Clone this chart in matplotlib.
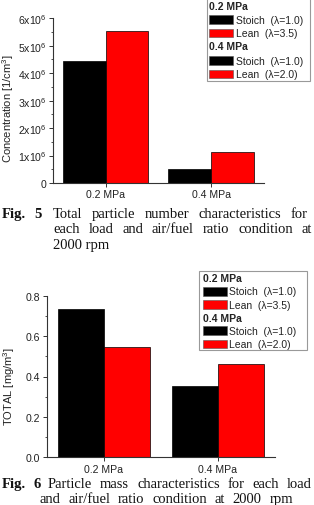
import matplotlib
matplotlib.use('Agg')
from matplotlib import pyplot as plt
from matplotlib.patches import Rectangle
from matplotlib.transforms import Affine2D
from matplotlib.ticker import MultipleLocator, FuncFormatter

plt.rcParams['font.family'] = ['Liberation Sans', 'DejaVu Sans']

# data
loads = ['0.2 MPa', '0.4 MPa']
conditions = ['Stoich', 'Lean']
bar_colors = ['#000000', '#ff0000']
lambdas = [['λ=1.0', 'λ=3.5'], ['λ=1.0', 'λ=2.0']]
number_stoich = [4.44e6, 0.50e6]
number_lean = [5.53e6, 1.13e6]
mass_stoich = [0.735, 0.354]
mass_lean = [0.547, 0.46]

W, H = 314, 506
fig = plt.figure(figsize=(W / 100, H / 100), dpi=100)
# pixel coordinates, y pointing down
pix = Affine2D().scale(1 / W, -1 / H).translate(0, 1) + fig.transFigure

axis_col = '#333333'
text_col = '#222222'


def bar_chart(rect, stoich, lean, ylim, major, minor, fmt, ylabel, label_xy, width):
    ax = fig.add_axes(rect)
    x = list(range(len(loads)))
    ax.bar([i - width for i in x], stoich, width, align='edge', color=bar_colors[0],
           edgecolor='black', linewidth=0.5)
    ax.bar(x, lean, width, align='edge', color=bar_colors[1], edgecolor='black', linewidth=0.5)
    ax.set_xlim(-0.5, 1.5)
    ax.set_ylim(*ylim)
    for s in ['top', 'right']:
        ax.spines[s].set_visible(False)
    for s in ['left', 'bottom']:
        ax.spines[s].set_color(axis_col)
        ax.spines[s].set_linewidth(0.8)
    ax.set_xticks(x)
    ax.set_xticklabels(loads)
    ax.yaxis.set_major_locator(MultipleLocator(major))
    ax.yaxis.set_minor_locator(MultipleLocator(minor))
    ax.yaxis.set_major_formatter(FuncFormatter(fmt))
    ax.tick_params(axis='both', which='major', direction='out', length=3, width=0.7,
                   color=axis_col, labelsize=7.6, labelcolor=text_col, pad=1.5)
    ax.tick_params(axis='y', which='minor', direction='out', length=1.8, width=0.6, color=axis_col)
    ax.set_ylabel(ylabel, fontsize=8, color=text_col)
    ax.yaxis.set_label_coords(*label_xy)
    return ax


def sci_fmt(v, pos):
    if v == 0:
        return '0'
    return r'$\mathregular{%dx10^6}$' % round(v / 1e6)


bar_chart([52.7 / W, 1 - 184 / H, 211.3 / W, 164.7 / H], number_stoich, number_lean,
          (0, 6e6), 1e6, 0.5e6, sci_fmt, r'Concentration [1/cm$\mathregular{^3}$]',
          (-0.175, 0.455), 0.404)
bar_chart([46.7 / W, 1 - 458.3 / H, 228.3 / W, 161.6 / H], mass_stoich, mass_lean,
          (0, 0.8), 0.2, 0.1, lambda v, p: '%.1f' % v, r'TOTAL [mg/m$\mathregular{^3}$]',
          (-0.13, 0.447), 0.401)


def legend(box, rows_y, px0, px1, tx):
    x0, y0, x1, y1 = box
    fig.add_artist(Rectangle((x0, y0), x1 - x0, y1 - y0, transform=pix, facecolor='white',
                             edgecolor='#999999', linewidth=0.8))
    k = 0
    for li, load in enumerate(loads):
        fig.text(px0, rows_y[k], load, transform=pix, fontsize=7.5, fontweight='bold',
                 va='center', ha='left', color=text_col)
        k += 1
        for ci, cond in enumerate(conditions):
            y = rows_y[k]
            fig.add_artist(Rectangle((px0, y - 4.3), px1 - px0, 8.6, transform=pix,
                                     facecolor=bar_colors[ci], edgecolor='#555555', linewidth=0.4))
            fig.text(tx, y, '%s  (%s)' % (cond, lambdas[li][ci]), transform=pix, fontsize=7.5,
                     va='center', ha='left', color=text_col)
            k += 1


legend((206.7, -5, 310, 81.7), [6.7, 20.7, 34, 47.3, 61.7, 75], 209.3, 233.3, 235.7)
legend((199.3, 272, 306.7, 350.7), [279.3, 292.3, 305.7, 319.3, 331.7, 345], 202.7, 226.7, 229.3)


def justify(words, x0, x1, y, **kw):
    # spread words over x0..x1 like justified text
    r = fig.canvas.get_renderer()
    texts = [fig.text(0, y, w, transform=pix, va='baseline', ha='left', **kw) for w in words]
    widths = [t.get_window_extent(r).width for t in texts]
    gap = (x1 - x0 - sum(widths)) / max(len(words) - 1, 1)
    x = x0
    for t, w in zip(texts, widths):
        t.set_x(x)
        x += w + gap


cap = dict(family=['Liberation Serif', 'DejaVu Serif'], fontsize=10.5, color='#111111')
fig.text(2, 217.7, 'Fig.', transform=pix, va='baseline', fontweight='bold', **cap)
fig.text(34, 217.7, '5', transform=pix, va='baseline', fontweight='bold', **cap)
justify('Total particle number characteristics for'.split(), 53, 308, 217.7, **cap)
justify('each load and air/fuel ratio condition at'.split(), 53, 312, 233.3, **cap)
fig.text(53, 249, '2000 rpm', transform=pix, va='baseline', **cap)

fig.text(2, 488.3, 'Fig.', transform=pix, va='baseline', fontweight='bold', **cap)
fig.text(34, 488.3, '6', transform=pix, va='baseline', fontweight='bold', **cap)
justify('Particle mass characteristics for each load'.split(), 48, 312, 488.3, **cap)
justify('and air/fuel ratio condition at 2000 rpm'.split(), 40, 293, 503.3, **cap)

fig.savefig('out.png', dpi=100)
